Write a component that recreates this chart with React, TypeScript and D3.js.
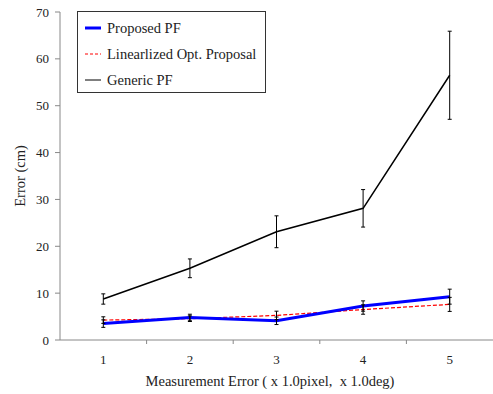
import { useEffect, useRef } from "react";
import * as d3 from "d3";

const categories = ["1", "2", "3", "4", "5"];
const proposed = [3.5, 4.8, 4.1, 7.25, 9.25];
const proposedErr = [0.8, 0.7, 0.8, 1.1, 1.6];
const linearized = [4.25, 4.55, 5.25, 6.5, 7.6];
const linearizedErr = [0.7, 0.6, 0.9, 1.0, 1.5];
const generic = [8.75, 15.3, 23.1, 28.1, 56.5];
const genericErr = [1.1, 2.0, 3.4, 4.0, 9.4];
const yTicks = [0, 10, 20, 30, 40, 50, 60, 70];

const FONT = "'Liberation Serif', 'Times New Roman', serif";

export default function App() {
  const ref = useRef<SVGSVGElement>(null);

  useEffect(() => {
    if (!ref.current) return;
    const W = 493, H = 394;
    const svg = d3.select(ref.current).attr("width", W).attr("height", H);
    svg.selectAll("*").remove();

    const x = d3.scaleBand().domain(categories).range([60, 493]);
    const y = d3.scaleLinear().domain([0, 70]).range([340, 12]);
    const cx = (c: string) => (x(c) ?? 0) + x.bandwidth() / 2;

    // axes
    svg.append("line").attr("x1", 60).attr("x2", 60).attr("y1", y(70)).attr("y2", y(0))
      .attr("stroke", "#888").attr("stroke-width", 1);
    svg.append("line").attr("x1", 60).attr("x2", 493).attr("y1", y(0)).attr("y2", y(0))
      .attr("stroke", "#888").attr("stroke-width", 1);
    yTicks.forEach(t => {
      svg.append("line").attr("x1", 55).attr("x2", 60).attr("y1", y(t)).attr("y2", y(t))
        .attr("stroke", "#888");
      svg.append("text").attr("x", 49).attr("y", y(t) + 4.5).attr("text-anchor", "end")
        .attr("font-family", FONT).attr("font-size", 13).attr("fill", "#222").text(t);
    });
    categories.forEach((c, i) => {
      if (i > 0) {
        const bx = x(c) ?? 0;
        svg.append("line").attr("x1", bx).attr("x2", bx).attr("y1", y(0)).attr("y2", y(0) + 4)
          .attr("stroke", "#888");
      }
      svg.append("text").attr("x", cx(c)).attr("y", 364).attr("text-anchor", "middle")
        .attr("font-family", FONT).attr("font-size", 13).attr("fill", "#222").text(c);
    });

    svg.append("text").attr("x", 270).attr("y", 386).attr("text-anchor", "middle")
      .attr("font-family", FONT).attr("font-size", 14.5).attr("fill", "#222")
      .attr("xml:space", "preserve")
      .text("Measurement Error ( x 1.0pixel,  x 1.0deg)");
    svg.append("text").attr("transform", `translate(25,176)rotate(-90)`).attr("text-anchor", "middle")
      .attr("font-family", FONT).attr("font-size", 14.5).attr("fill", "#222").text("Error (cm)");

    const line = d3.line<number>().x((_, i) => cx(categories[i])).y(d => y(d));

    const series = [
      { vals: generic, errs: genericErr, color: "#000", width: 1.5, dash: null as string | null },
      { vals: linearized, errs: linearizedErr, color: "#f00", width: 1.2, dash: "4,2" },
      { vals: proposed, errs: proposedErr, color: "#00f", width: 3, dash: null },
    ];
    series.forEach(s => {
      const p = svg.append("path").attr("d", line(s.vals)).attr("fill", "none")
        .attr("stroke", s.color).attr("stroke-width", s.width);
      if (s.dash) p.attr("stroke-dasharray", s.dash);
    });
    // error bars
    series.forEach(s => {
      s.vals.forEach((v, i) => {
        const px = cx(categories[i]);
        const g = svg.append("g").attr("stroke", "#000").attr("stroke-width", 1);
        g.append("line").attr("x1", px).attr("x2", px).attr("y1", y(v + s.errs[i])).attr("y2", y(v - s.errs[i]));
        g.append("line").attr("x1", px - 2).attr("x2", px + 2).attr("y1", y(v + s.errs[i])).attr("y2", y(v + s.errs[i]));
        g.append("line").attr("x1", px - 2).attr("x2", px + 2).attr("y1", y(v - s.errs[i])).attr("y2", y(v - s.errs[i]));
      });
    });

    // legend
    const lg = svg.append("g");
    lg.append("rect").attr("x", 77.5).attr("y", 11.5).attr("width", 188).attr("height", 81)
      .attr("fill", "#fff").attr("stroke", "#333").attr("stroke-width", 1);
    const items = [
      { label: "Proposed PF", color: "#00f", width: 3, dash: null as string | null },
      { label: "Linearlized Opt. Proposal", color: "#f00", width: 1, dash: "3,2" },
      { label: "Generic PF", color: "#000", width: 1, dash: null },
    ];
    items.forEach((it, i) => {
      const ly = 28 + i * 26;
      const l = lg.append("line").attr("x1", 85).attr("x2", 101).attr("y1", ly).attr("y2", ly)
        .attr("stroke", it.color).attr("stroke-width", it.width);
      if (it.dash) l.attr("stroke-dasharray", it.dash);
      lg.append("text").attr("x", 107).attr("y", ly + 5).attr("font-family", FONT)
        .attr("font-size", 14.5).attr("fill", "#222").text(it.label);
    });
  }, []);

  return <svg ref={ref} style={{ position: "absolute", left: 0, top: 0 }} />;
}
